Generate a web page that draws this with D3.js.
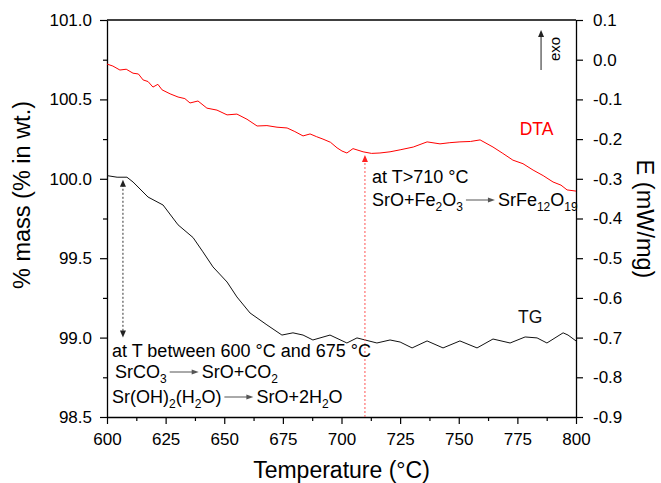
<!DOCTYPE html>
<html>
<head>
<meta charset="utf-8">
<script src="https://cdn.jsdelivr.net/npm/d3@7"></script>
<style>
  body { margin: 0; background: #fff; }
  text { font-family: Arial, "Liberation Sans", sans-serif; }
</style>
</head>
<body>
<svg id="chart" width="661" height="483"></svg>
<script>
// TG curve (% mass)
const tgT = [600, 604.3, 608.5, 611.1, 617.5, 623.9, 630.3, 636.7, 640.9, 645.2, 651.2, 655.4,
  661.0, 668.2, 674.6, 679.3, 683.6, 687.8, 695.1, 702.3, 706.6, 715.1, 720.7, 725.0, 730.1,
  736.5, 743.3, 750.5, 757.8, 764.6, 771.9, 778.3, 783.4, 787.6, 794.5, 796.6, 800];
const tgMass = [100.02, 100.01, 100.01, 99.98, 99.885, 99.835, 99.71, 99.63, 99.54, 99.445, 99.35, 99.256,
  99.155, 99.08, 99.016, 99.03, 99.016, 98.985, 99.016, 98.966, 98.998, 98.966, 98.985, 98.972, 98.935,
  98.979, 98.935, 98.979, 98.935, 98.991, 98.966, 99.004, 98.998, 98.966, 99.03, 99.016, 98.979];

// DTA curve (mW/mg)
const dtaT = [600, 602.5, 605.5, 608.2, 611.1, 613.4, 615.4, 617.5, 619.6, 621.7, 623.5, 626.9,
  630.3, 633.2, 635.4, 638.8, 642.6, 646.9, 651.2, 655.4, 659.7, 664.0, 668.2, 672.5, 676.8,
  680.1, 683.6, 686.6, 689.4, 692.1, 695.3, 698.1, 700.2, 702.3, 704.9, 709.2, 712.8, 716.4,
  720.7, 725.0, 730.6, 736.5, 742.0, 746.2, 750.5, 755.0, 759.1, 764.6, 768.8, 773.1, 777.4,
  781.7, 786.0, 790.2, 793.6, 796.2, 800];
const dtaE = [-0.011, -0.016, -0.026, -0.024, -0.034, -0.036, -0.051, -0.055, -0.069, -0.062, -0.076, -0.086,
  -0.094, -0.098, -0.109, -0.104, -0.122, -0.127, -0.139, -0.137, -0.150, -0.167, -0.166, -0.170, -0.172,
  -0.181, -0.192, -0.187, -0.194, -0.200, -0.208, -0.222, -0.230, -0.235, -0.224, -0.232, -0.236, -0.235,
  -0.232, -0.227, -0.220, -0.207, -0.212, -0.209, -0.207, -0.206, -0.202, -0.220, -0.236, -0.253, -0.262,
  -0.278, -0.292, -0.308, -0.316, -0.328, -0.331];

const xTicks = [600, 625, 650, 675, 700, 725, 750, 775, 800];
const xMinor = [612.5, 637.5, 662.5, 687.5, 712.5, 737.5, 762.5, 787.5];
const massTicks = [98.5, 99.0, 99.5, 100.0, 100.5, 101.0];
const massMinor = [98.75, 99.25, 99.75, 100.25, 100.75];
const eTicks = [0.1, 0.0, -0.1, -0.2, -0.3, -0.4, -0.5, -0.6, -0.7, -0.8, -0.9];

const svg = d3.select('#chart');
const margin = {top: 20, right: 85, bottom: 66, left: 107};
const width = 661 - margin.left - margin.right;
const height = 483 - margin.top - margin.bottom;

const g = svg.append('g').attr('transform', `translate(${margin.left},${margin.top})`);

const x = d3.scaleLinear().domain([600, 800]).range([0, width]);
const yMass = d3.scaleLinear().domain([98.5, 101.0]).range([height, 0]);
const yE = d3.scaleLinear().domain([-0.9, 0.1]).range([height, 0]);

const fmt = d => d3.format('.1f')(d).replace('\u2212', '-');

// axes
let ax = g.append('g').attr('transform', `translate(0,${height})`)
  .call(d3.axisBottom(x).tickValues(xTicks).tickFormat(d3.format('d')).tickSize(7).tickPadding(9).tickSizeOuter(0));
ax.selectAll('text').attr('font-size', 17);
g.append('g').attr('transform', `translate(0,${height})`)
  .call(d3.axisBottom(x).tickValues(xMinor).tickFormat('').tickSize(4).tickSizeOuter(0))
  .select('.domain').remove();

let al = g.append('g')
  .call(d3.axisLeft(yMass).tickValues(massTicks).tickFormat(fmt).tickSize(7).tickPadding(8).tickSizeOuter(0));
al.selectAll('text').attr('font-size', 17);
g.append('g')
  .call(d3.axisLeft(yMass).tickValues(massMinor).tickFormat('').tickSize(4).tickSizeOuter(0))
  .select('.domain').remove();

let ar = g.append('g').attr('transform', `translate(${width},0)`)
  .call(d3.axisRight(yE).tickValues(eTicks).tickFormat(fmt).tickSize(7).tickPadding(10).tickSizeOuter(0));
ar.selectAll('text').attr('font-size', 17);

// top frame
g.append('line').attr('x1', 0).attr('x2', width).attr('y1', 0).attr('y2', 0)
  .attr('stroke', '#000').attr('stroke-width', 1.3);
g.selectAll('.domain').attr('stroke-width', 1.3);
g.selectAll('.tick line').attr('stroke-width', 1.2);

// curves
const tgLine = d3.line().x((d, i) => x(tgT[i])).y(d => yMass(d));
g.append('path').datum(tgMass).attr('d', tgLine)
  .attr('fill', 'none').attr('stroke', '#111').attr('stroke-width', 1);

const dtaLine = d3.line().x((d, i) => x(dtaT[i])).y(d => yE(d));
g.append('path').datum(dtaE).attr('d', dtaLine)
  .attr('fill', 'none').attr('stroke', '#ff0000').attr('stroke-width', 1);

// axis titles
svg.append('text').attr('transform', 'translate(30,195) rotate(-90)')
  .attr('text-anchor', 'middle').attr('font-size', 23.5).text('% mass (% in wt.)');
svg.append('text').attr('transform', 'translate(637,219) rotate(90)')
  .attr('text-anchor', 'middle').attr('font-size', 23.5).text('E (mW/mg)');
svg.append('text').attr('x', margin.left + width / 2).attr('y', 478)
  .attr('text-anchor', 'middle').attr('font-size', 23).text('Temperature (\u00B0C)');

// series labels
g.append('text').attr('x', x(776)).attr('y', yE(-0.19)).attr('font-size', 17.5)
  .attr('fill', '#ff0000').text('DTA');
g.append('text').attr('x', x(775.3)).attr('y', yMass(99.092)).attr('font-size', 17.5)
  .attr('fill', '#111').text('TG');

// arrow head helper (dir: 1 = down, -1 = up)
function head(sel, px, py, dir, color) {
  const w = 3, h = 7;
  sel.append('path')
    .attr('d', `M${px},${py} L${px - w},${py - dir * h} L${px + w},${py - dir * h} Z`)
    .attr('fill', color);
}

// exo arrow
const ex = x(785.1);
g.append('line').attr('x1', ex).attr('x2', ex)
  .attr('y1', 50).attr('y2', 16).attr('stroke', '#222').attr('stroke-width', 1);
head(g, ex, 10, -1, '#222');
g.append('text').attr('transform', `translate(${ex + 19},29) rotate(-90)`)
  .attr('text-anchor', 'middle').attr('font-size', 15).text('exo');

// dotted arrows
const bx = x(606.8);
g.append('line').attr('x1', bx).attr('x2', bx)
  .attr('y1', yMass(100.0) + 6).attr('y2', yMass(99.0) - 6)
  .attr('stroke', '#333').attr('stroke-width', 1).attr('stroke-dasharray', '2,2');
head(g, bx, yMass(100.0) + 1, -1, '#222');
head(g, bx, yMass(99.0), 1, '#222');

const rx = x(710);
g.append('line').attr('x1', rx).attr('x2', rx)
  .attr('y1', height).attr('y2', yE(-0.24) + 6)
  .attr('stroke', '#ff5555').attr('stroke-width', 1).attr('stroke-dasharray', '2,2');
head(g, rx, yE(-0.24), -1, '#ff2222');

// annotation text with subscripts
function chem(sel, px, py, parts) {
  const t = sel.append('text').attr('x', px).attr('y', py).attr('font-size', 18);
  let down = false;
  parts.forEach(p => {
    if (typeof p === 'string') {
      t.append('tspan').attr('font-size', 18).attr('dy', down ? -5 : 0).text(p);
      down = false;
    } else {
      t.append('tspan').attr('font-size', 12).attr('dy', down ? 0 : 5).text(p.sub);
      down = true;
    }
  });
  return t;
}
function reaction(sel, px, py, left, right) {
  const t = chem(sel, px, py, left);
  const end = px + t.node().getComputedTextLength();
  const a0 = end + 3, a1 = end + 32;
  sel.append('line').attr('x1', a0).attr('x2', a1 - 5).attr('y1', py - 6).attr('y2', py - 6)
    .attr('stroke', '#555').attr('stroke-width', 1);
  sel.append('path').attr('d', `M${a1},${py - 6} L${a1 - 7},${py - 8.5} L${a1 - 7},${py - 3.5} Z`)
    .attr('fill', '#555');
  chem(sel, a1 + 3, py, right);
}

const ann = svg.append('g');
chem(ann, 112, 357, ['at T between 600 \u00B0C and 675 \u00B0C']);
reaction(ann, 115, 378, ['SrCO', {sub: '3'}], ['SrO+CO', {sub: '2'}]);
reaction(ann, 112, 403, ['Sr(OH)', {sub: '2'}, '(H', {sub: '2'}, 'O)'], ['SrO+2H', {sub: '2'}, 'O']);

chem(ann, 372, 183, ['at T>710 \u00B0C']);
reaction(ann, 372, 206, ['SrO+Fe', {sub: '2'}, 'O', {sub: '3'}], ['SrFe', {sub: '12'}, 'O', {sub: '19'}]);
</script>
</body>
</html>
